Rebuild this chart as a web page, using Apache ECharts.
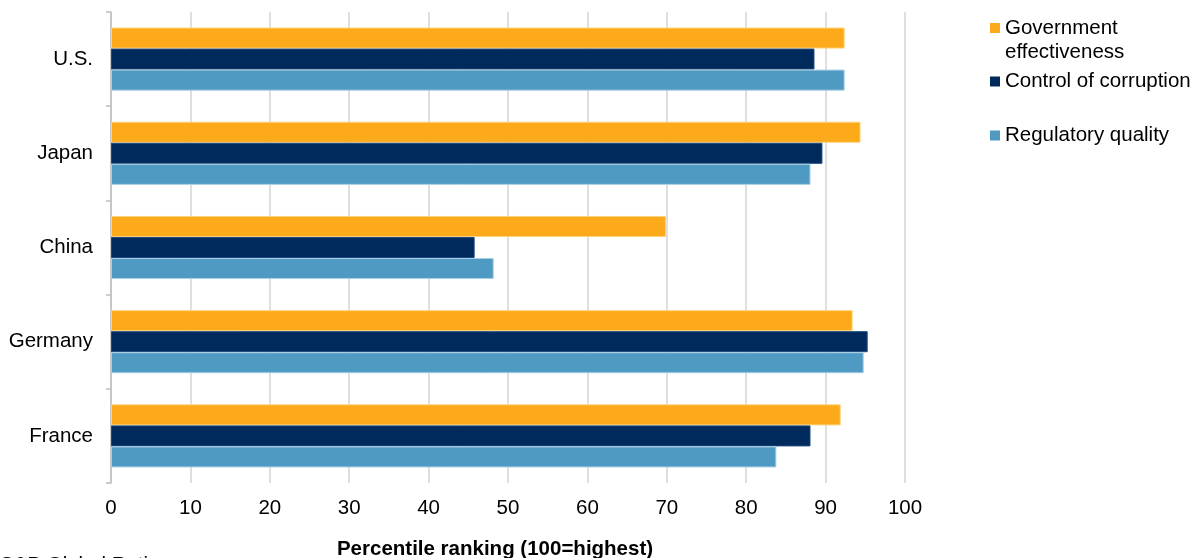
<!DOCTYPE html>
<html>
<head>
<meta charset="utf-8">
<script src="https://cdn.jsdelivr.net/npm/echarts@6/dist/echarts.min.js"></script>
<style>
  html, body { margin: 0; padding: 0; background: #fff; }
  #chart { width: 1198px; height: 558px; }
</style>
</head>
<body>
<div id="chart"></div>
<script>
// Governance indicators, percentile ranking (100 = highest)
const countries = ['U.S.', 'Japan', 'China', 'Germany', 'France'];
const govEffectiveness = [92.4, 94.4, 69.9, 93.4, 91.9];
const controlCorruption = [88.6, 89.6, 45.8, 95.3, 88.1];
const regulatoryQuality = [92.4, 88.1, 48.2, 94.8, 83.8];
const xTicks = [0, 10, 20, 30, 40, 50, 60, 70, 80, 90, 100];

const FONT = '"Liberation Sans", Arial, sans-serif';
const FS = 20.5;
const colors = ['#FDAA1A', '#002A5C', '#4E9AC3'];
const borders = ['#FFD27A', '#1E4A80', '#A9CFE3'];
const names = ['Government effectiveness', 'Control of corruption', 'Regulatory quality'];
const values = [govEffectiveness, controlCorruption, regulatoryQuality];

function legendFor(i, top, extra) {
  return Object.assign({
    data: [names[i]],
    left: 990,
    top: top,
    orient: 'vertical',
    icon: 'rect',
    itemWidth: 10,
    itemHeight: 10,
    padding: 0,
    selectedMode: false,
    itemStyle: { borderWidth: 0 },
    textStyle: { fontFamily: FONT, fontSize: FS, color: '#000', lineHeight: 24 }
  }, extra || {});
}

const chart = echarts.init(document.getElementById('chart'), null, { renderer: 'canvas' });
chart.setOption({
  animation: false,
  backgroundColor: '#fff',
  grid: { left: 111, right: 293, top: 12, bottom: 75, containLabel: false, outerBoundsMode: 'none' },
  xAxis: {
    type: 'value',
    min: xTicks[0],
    max: xTicks[xTicks.length - 1],
    interval: 10,
    name: 'Percentile ranking (100=highest)',
    nameLocation: 'middle',
    nameGap: 56,
    nameTextStyle: { fontFamily: FONT, fontSize: FS, fontWeight: 'bold', color: '#000', padding: [0, 26, 0, 0] },
    axisLine: { show: false },
    axisTick: { show: false },
    axisLabel: { fontFamily: FONT, fontSize: FS, color: '#000', margin: 15 },
    splitLine: { show: true, lineStyle: { color: '#D4D4D4', width: 1.5 } }
  },
  yAxis: {
    type: 'category',
    data: countries,
    inverse: true,
    axisLine: { show: true, lineStyle: { color: '#BFBFBF', width: 1.5 } },
    axisTick: { show: true, length: 5, lineStyle: { color: '#BFBFBF', width: 1.5 } },
    axisLabel: { fontFamily: FONT, fontSize: FS, color: '#000', margin: 18 },
    splitLine: { show: false }
  },
  legend: [
    // leading blank line keeps the marker level with the first line of the wrapped name
    legendFor(0, -8, {
      formatter: function () { return '\nGovernment\neffectiveness'; }
    }),
    legendFor(1, 69.5),
    legendFor(2, 123.5)
  ],
  series: values.map(function (arr, i) {
    return {
      name: names[i],
      type: 'bar',
      data: arr,
      barGap: '0%',
      barCategoryGap: '33%',
      itemStyle: { color: colors[i], borderColor: borders[i], borderWidth: 1 },
      emphasis: { disabled: true }
    };
  }),
  graphic: [
    {
      type: 'text',
      left: 0,
      top: 554.5,
      style: { text: 'S&P Global Ratings', fontFamily: FONT, fontSize: FS, fill: '#000' }
    }
  ]
});
</script>
</body>
</html>
